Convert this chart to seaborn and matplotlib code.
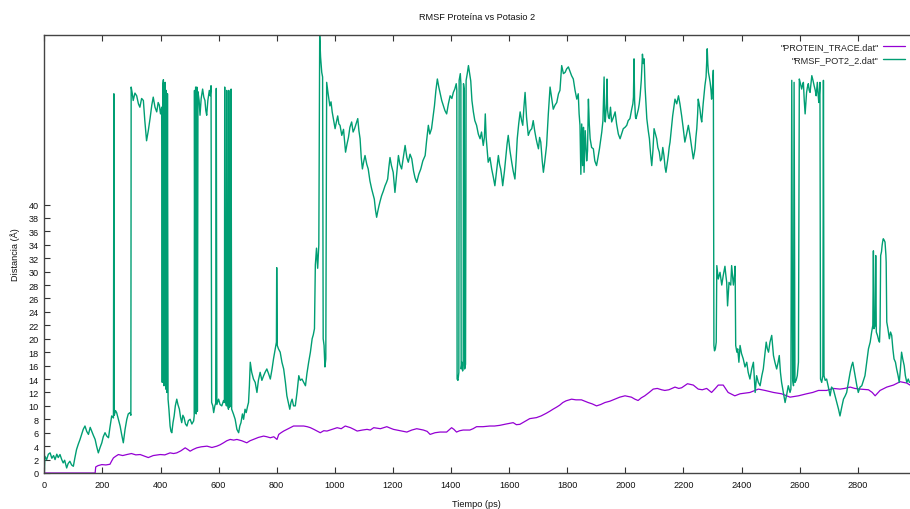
import matplotlib
matplotlib.use("Agg")
import matplotlib.pyplot as plt
from matplotlib import font_manager
import seaborn as sns

# PROTEIN_TRACE.dat  (tiempo ps, distancia A)
protein_t = [0, 60, 120, 175, 177, 185, 198, 212, 226, 232, 238, 246, 255, 270, 284, 300, 315, 330, 345, 358,
             375, 399, 415, 433, 445, 456, 470, 485, 494, 502, 512, 525, 540, 560, 577, 594, 605, 617, 628, 640,
             652, 663, 680, 697, 708, 720, 737, 755, 766, 778, 790, 801, 807, 815, 824, 840, 858, 875, 893, 905,
             916, 928, 939, 950, 962, 973, 990, 1008, 1022, 1036, 1054, 1066, 1077, 1095, 1111, 1122, 1134, 1157,
             1179, 1190, 1202, 1225, 1248, 1265, 1282, 1305, 1318, 1328, 1345, 1362, 1385, 1402, 1410, 1419, 1430,
             1442, 1465, 1476, 1488, 1510, 1534, 1550, 1568, 1590, 1614, 1625, 1637, 1655, 1671, 1694, 1710, 1728,
             1740, 1751, 1763, 1774, 1785, 1796, 1815, 1830, 1849, 1872, 1886, 1901, 1915, 1930, 1947, 1964, 1981,
             1999, 2021, 2033, 2044, 2055, 2067, 2082, 2096, 2110, 2125, 2136, 2150, 2171, 2184, 2194, 2214, 2234,
             2251, 2265, 2280, 2297, 2310, 2320, 2337, 2354, 2377, 2395, 2412, 2429, 2458, 2481, 2510, 2538, 2567,
             2596, 2624, 2645, 2665, 2693, 2716, 2739, 2755, 2774, 2790, 2808, 2837, 2850, 2860, 2877, 2900, 2923,
             2946, 2969, 2980]
protein_v = [0, 0, 0, 0, 0.9, 1.1, 1.25, 1.2, 1.3, 1.8, 2.25, 2.5, 2.75, 2.6, 2.75, 2.9, 2.7, 2.75, 2.5, 2.3,
             2.6, 2.75, 2.7, 3.0, 2.9, 3.0, 3.3, 3.75, 3.5, 3.25, 3.5, 3.75, 3.9, 4.0, 3.8, 4.0, 4.2, 4.5, 4.8, 5.0,
             4.9, 5.0, 4.8, 4.5, 4.8, 5.0, 5.3, 5.5, 5.4, 5.25, 5.4, 5.0, 5.75, 6.0, 6.25, 6.6, 7.0, 7.0, 7.0, 6.9,
             6.75, 6.5, 6.25, 6.0, 6.3, 6.25, 6.5, 6.75, 6.6, 7.0, 6.75, 6.5, 6.25, 6.4, 6.5, 6.4, 6.75, 6.6,
             6.9, 6.7, 6.5, 6.3, 6.1, 6.4, 6.6, 6.4, 6.2, 5.75, 6.0, 6.1, 6.1, 6.75, 6.5, 6.1, 6.3,
             6.4, 6.4, 6.6, 6.9, 6.9, 7.0, 7.0, 7.1, 7.3, 7.5, 7.2, 7.25, 7.7, 8.1, 8.25, 8.5, 8.9,
             9.2, 9.5, 9.8, 10.1, 10.5, 10.75, 11.0, 10.9, 10.9, 10.5, 10.3, 10.0, 10.2, 10.5, 10.7, 11.0, 11.3,
             11.5, 11.3, 11.0, 10.8, 11.2, 11.5, 12.0, 12.5, 12.6, 12.4, 12.3, 12.4, 12.8, 12.6, 12.7, 13.3, 13.1,
             12.5, 12.4, 12.6, 12.0, 12.6, 13.1, 13.1, 12.0, 11.5, 11.8, 11.9, 12.0, 12.5, 12.3, 12.0, 11.8, 11.3,
             11.5, 11.8, 12.0, 12.3, 12.3, 12.6, 12.5, 12.6, 12.8, 12.6, 12.5, 12.4, 12.0, 11.5, 12.3, 12.8, 13.1,
             13.6, 13.4, 13.1]

# RMSF_POT2_2.dat  (tiempo ps, distancia A)
pot_t = [0, 2, 8, 14, 20, 26, 32, 37, 43, 48, 54, 60, 65, 70, 77, 82, 88, 94, 100, 105,
         111, 117, 123, 129, 134, 140, 146, 152, 158, 163, 169, 175, 180, 186, 192, 198, 203, 209, 215, 221,
         226, 232, 238, 239.5, 241, 245, 249, 255, 261, 266, 272, 278, 284, 289, 295, 298,
         299, 303, 306, 312, 318, 324, 329, 335, 341, 346, 352, 358, 364, 370, 375, 381, 387, 392, 396, 400,
         404, 406, 408, 410, 412, 414, 416, 418, 420, 422, 424, 426,
         429, 433, 436, 439, 443, 447, 451, 456, 460, 465, 469, 473, 477, 481, 486, 491, 496, 502, 508, 514,
         516, 517, 519, 521, 523, 525, 527, 529,
         533, 536, 540, 545, 549, 553, 556, 559, 563, 568, 571, 574,
         576, 580, 583, 587, 590, 592, 594, 600, 605, 611, 617, 620, 621, 623, 627, 628, 630, 634, 635, 637,
         642, 643, 645, 651, 657, 663, 669, 673, 677, 682, 686, 691, 695, 700, 703, 706, 709, 714, 720, 726,
         732, 737, 743, 749, 755, 760, 766, 772, 778, 784, 789, 795, 799, 800, 802, 806, 812, 818, 824, 830,
         835, 840, 845, 849, 853, 858, 864, 870, 876, 881, 887, 893, 899, 904, 910, 916, 922, 926, 930, 933,
         937, 941, 945, 948, 951, 955, 958, 960, 963, 966, 969, 972,
         977, 983, 987, 991, 996, 1001, 1005, 1010, 1014, 1018, 1024, 1030, 1037, 1042, 1047, 1052, 1058, 1063,
         1068, 1073, 1079, 1083, 1087, 1091, 1095, 1100, 1104, 1110, 1115, 1121, 1127, 1132, 1136, 1140, 1144,
         1148, 1152, 1156, 1161, 1167, 1173, 1178, 1182, 1186, 1190, 1195, 1201, 1207, 1213, 1219, 1224, 1230,
         1236, 1242, 1248, 1253, 1259, 1265, 1271, 1276, 1282, 1289, 1296, 1303, 1311, 1316, 1322, 1327, 1333,
         1338, 1343, 1348, 1353, 1358, 1362, 1368, 1374, 1379, 1385, 1391, 1397, 1403, 1408, 1413, 1418, 1420,
         1421, 1424, 1427, 1428, 1432, 1434, 1435, 1438, 1440, 1442, 1443, 1446, 1447, 1450, 1452, 1456, 1460,
         1464, 1468, 1472, 1477, 1482, 1488, 1494, 1500, 1505, 1511, 1515, 1518, 1521, 1528, 1534, 1540, 1546,
         1551, 1557, 1563, 1567, 1571, 1575, 1578, 1584, 1589, 1593, 1597, 1603, 1609, 1614, 1620, 1624, 1628,
         1633, 1638, 1643, 1647, 1651, 1655, 1660, 1666, 1672, 1678, 1683, 1688, 1693, 1697, 1701, 1705, 1709,
         1714, 1718, 1723, 1729, 1735, 1741, 1746, 1752, 1758, 1764, 1770, 1775, 1781, 1787, 1793, 1798, 1804,
         1810, 1815, 1821, 1827, 1833, 1838, 1841, 1844, 1847, 1850, 1853, 1856, 1858, 1862, 1867, 1870, 1873,
         1876, 1879, 1884, 1890, 1895, 1901, 1906, 1911, 1915, 1919, 1923, 1927, 1929, 1931, 1935, 1937, 1939,
         1942, 1945, 1949, 1953, 1959, 1965, 1970, 1976, 1982, 1987, 1993, 1999, 2005, 2010, 2016, 2022, 2026,
         2028, 2030, 2032, 2035, 2037, 2041, 2045, 2048, 2051, 2055, 2059, 2062, 2065, 2068, 2071, 2074, 2079,
         2083, 2087, 2091, 2095, 2099, 2104, 2108, 2112, 2117, 2121, 2125, 2129, 2133, 2137, 2140, 2144, 2148,
         2151, 2154, 2158, 2163, 2167, 2171, 2177, 2183, 2188, 2194, 2199, 2205, 2211, 2217, 2222, 2226, 2230,
         2234, 2237, 2240, 2243, 2246, 2249, 2251, 2254, 2257, 2260, 2263, 2268, 2274, 2278, 2282, 2284, 2286,
         2289, 2292, 2295, 2297, 2300, 2303,
         2305, 2307, 2310, 2313, 2315, 2320, 2326, 2332, 2337, 2343, 2346, 2349, 2352, 2355, 2357, 2363, 2366,
         2369, 2372, 2376, 2378, 2380, 2384, 2387, 2391, 2395, 2400, 2406, 2412, 2418, 2423, 2429, 2435, 2441,
         2447, 2452, 2458, 2464, 2470, 2475, 2480, 2485, 2489, 2493, 2498, 2504, 2507, 2510, 2515, 2521, 2526,
         2530, 2534, 2538, 2544, 2550, 2556, 2561, 2567, 2570, 2573, 2576, 2579, 2581, 2584, 2588, 2592, 2596,
         2599, 2603, 2607, 2610, 2613, 2616, 2619, 2622, 2624, 2627, 2630, 2633, 2636, 2639, 2642, 2646, 2650,
         2654, 2657, 2661, 2663, 2666, 2668, 2670, 2672, 2676, 2680, 2682, 2684, 2688, 2693, 2699, 2705, 2710,
         2716, 2722, 2728, 2734, 2739, 2745, 2751, 2757, 2762, 2768, 2774, 2779, 2783, 2787, 2791, 2797, 2802,
         2808, 2814, 2820, 2825, 2831, 2837, 2843, 2848, 2852, 2854, 2856, 2860, 2862, 2864, 2868, 2872, 2875,
         2877, 2879, 2882, 2884, 2886, 2888, 2891, 2894, 2897, 2898, 2900, 2904, 2909, 2913, 2917, 2921, 2925,
         2930, 2934, 2939, 2943, 2947, 2951, 2955, 2960, 2964, 2969, 2974, 2978]
pot_v = [0, 2.5, 2.0, 2.8, 3.0, 2.2, 2.6, 2.0, 2.8, 2.3, 2.75, 2.0, 1.5, 1.9, 0.75, 1.4, 1.75, 1.2, 1.0, 2.2,
         3.5, 4.3, 5.0, 5.8, 6.5, 7.0, 6.2, 5.75, 6.8, 6.25, 5.6, 5.0, 4.0, 3.0, 3.8, 4.5, 5.4, 6.0, 5.5, 5.25,
         6.8, 8.5, 8.2, 56.5, 8.6, 9.3, 9.0, 8.0, 7.0, 5.8, 4.5, 6.5, 8.0, 8.8, 9.0, 8.6,
         57.5, 56.5, 55.5, 56.6, 56.2, 55.0, 54.5, 55.8, 55.5, 52.5, 49.5, 51.0, 52.8, 54.8, 56.0, 54.5, 53.8, 55.2, 54.8, 53.5,
         54.5, 13.5, 57.8, 58.6, 13.0, 57.5, 58.2, 12.5, 57.0, 12.0, 56.5, 11.0,
         9.5, 7.0, 6.2, 6.0, 7.5, 8.5, 10.0, 11.0, 10.2, 9.5, 8.3, 7.5, 8.6, 8.25, 7.3, 7.0, 7.8, 8.0, 7.3, 7.75,
         8.5, 57.0, 9.0, 57.5, 8.8, 57.5, 9.2, 56.8,
         55.5, 53.3, 55.8, 57.2, 56.0, 55.5, 54.0, 53.3, 55.5, 57.0, 56.2, 57.7,
         10.5, 10.0, 9.0, 10.0, 10.4, 57.3, 10.2, 11.0, 10.2, 10.0, 10.8, 10.5, 57.5, 11.0, 10.0, 57.0, 10.5, 9.5, 57.0, 9.8,
         10.0, 57.2, 9.5, 8.8, 8.0, 6.5, 6.0, 7.0, 7.5, 8.8, 8.0, 9.5, 9.0, 10.0, 10.5, 13.0, 16.5, 15.0, 14.0, 13.5,
         12.0, 13.8, 15.0, 13.8, 14.5, 15.0, 15.5, 14.8, 14.0, 15.5, 17.0, 18.5, 19.5, 30.6, 19.0, 18.5, 18.0, 16.5, 15.5, 13.5,
         11.5, 10.5, 9.5, 10.5, 11.0, 10.0, 10.0, 12.0, 14.5, 13.8, 14.0, 13.5, 13.0, 14.8, 16.5, 18.0, 20.0, 20.6, 21.5, 31.0,
         33.5, 30.5, 34.0, 65.2, 62.0, 59.7, 59.0, 20.0, 19.0, 15.8, 17.0, 58.2,
         56.5, 54.7, 55.3, 53.8, 52.5, 51.3, 52.2, 53.2, 52.0, 51.8, 50.3, 51.2, 47.8, 49.0, 50.0, 51.5, 52.3, 50.8,
         51.3, 52.0, 52.8, 51.0, 49.8, 47.0, 45.3, 46.5, 47.3, 46.0, 45.3, 43.5, 42.3, 41.5, 40.8, 39.2, 38.1,
         39.0, 39.8, 40.5, 41.3, 42.0, 42.8, 43.3, 43.8, 45.5, 47.0, 45.8, 44.8, 41.8, 44.5, 47.3, 46.0, 45.3,
         47.0, 48.8, 47.0, 46.3, 47.5, 46.8, 45.0, 44.0, 43.3, 44.5, 45.3, 46.5, 47.3, 49.5, 51.8, 50.5, 51.3,
         53.0, 54.7, 57.0, 58.7, 57.5, 56.7, 55.5, 54.7, 54.0, 53.5, 55.0, 56.2, 55.8, 56.7, 57.2, 58.0, 57.0,
         14.0, 13.8, 15.0, 58.5, 59.5, 58.0, 15.5, 16.5, 15.2, 16.0, 58.0, 57.0, 15.5, 16.2, 58.5, 59.5, 60.7,
         59.5, 58.4, 55.5, 53.8, 52.5, 51.8, 50.5, 49.8, 50.8, 48.8, 50.0, 53.5, 50.0, 46.3, 47.0, 45.3, 44.0,
         42.8, 45.0, 47.3, 46.0, 45.3, 44.0, 42.8, 45.0, 47.3, 49.0, 50.3, 48.0, 46.3, 45.0, 43.8, 46.5, 49.8,
         52.0, 53.8, 52.5, 51.8, 54.5, 56.7, 53.0, 50.3, 51.0, 51.3, 52.5, 51.0, 49.8, 49.0, 48.3, 50.0, 49.3,
         46.5, 44.8, 46.5, 48.8, 53.5, 57.5, 56.0, 54.2, 54.8, 55.2, 56.5, 57.0, 60.7, 59.5, 59.7, 60.2, 60.5,
         59.8, 59.2, 58.7, 57.0, 55.7, 56.5, 53.5, 51.8, 44.5, 52.0, 45.8, 51.5, 44.8, 51.0, 46.5, 48.0, 55.7,
         52.0, 49.8, 48.5, 48.3, 46.5, 45.8, 47.0, 48.3, 49.5, 50.8, 52.5, 59.0, 53.0, 52.3, 55.0, 58.7, 54.0,
         53.0, 52.8, 54.5, 52.3, 53.0, 53.8, 52.0, 50.5, 49.8, 50.5, 51.3, 51.5, 51.8, 52.5, 52.8, 54.2, 55.0,
         56.0, 61.7, 55.5, 53.0, 52.8, 53.5, 54.2, 55.0, 56.2, 58.5, 62.4, 61.0, 61.7, 57.5, 55.0, 52.8, 51.0,
         49.8, 47.5, 45.8, 48.0, 51.3, 50.5, 49.8, 48.5, 47.8, 46.5, 46.8, 48.5, 47.3, 45.5, 44.8, 46.0, 47.3,
         48.5, 49.3, 51.0, 53.2, 54.5, 55.7, 55.0, 56.2, 55.0, 53.2, 51.5, 49.3, 50.5, 51.8, 50.5, 49.3, 48.0,
         46.8, 47.5, 48.3, 50.0, 51.3, 53.5, 55.7, 55.0, 54.2, 53.0, 52.3, 55.0, 57.7, 59.0, 63.2, 61.0, 59.7,
         59.0, 58.2, 57.0, 55.7, 57.5, 60.0,
         19.0, 18.2, 18.5, 19.5, 30.9, 28.9, 29.9, 28.0, 29.4, 30.8, 29.5, 28.4, 24.9, 27.0, 28.4, 28.0, 30.9,
         29.5, 28.0, 29.5, 30.8, 19.0, 18.0, 18.5, 16.5, 19.0, 17.8, 17.0, 15.8, 16.5, 15.0, 14.0, 15.5, 16.5,
         12.0, 14.5, 13.5, 13.0, 14.5, 15.5, 17.5, 19.5, 18.5, 18.0, 19.5, 20.5, 19.0, 17.5, 16.5, 15.5, 16.5,
         17.5, 15.0, 13.5, 12.0, 10.5, 11.8, 13.0, 12.0, 12.5, 58.5, 14.0, 13.0, 58.2, 13.5, 13.8, 14.5, 16.5,
         58.7, 58.0, 57.2, 57.8, 58.2, 55.5, 53.5, 55.5, 56.7, 57.5, 58.0, 57.0, 56.7, 58.0, 59.2, 58.5, 57.7,
         57.0, 56.2, 58.2, 56.8, 55.2, 56.5, 58.2, 14.0, 13.5, 14.5, 58.5, 14.5, 13.8, 14.0, 12.8, 11.5, 12.8,
         12.5, 11.5, 10.5, 9.5, 8.5, 9.8, 11.0, 11.5, 12.0, 13.5, 15.0, 16.0, 16.5, 15.5, 14.5, 13.0, 12.0,
         12.8, 13.0, 13.8, 14.5, 16.5, 18.5, 19.5, 21.0, 22.0, 33.1, 21.5, 22.0, 32.4, 21.0, 20.5, 19.8, 19.5,
         22.0, 32.4, 33.0, 33.9, 34.5, 34.9, 34.7, 34.4, 32.5, 31.4, 22.5, 21.5, 20.0, 21.0, 20.5, 18.5, 17.0,
         16.5, 15.5, 14.5, 13.5, 15.5, 18.0, 17.0, 16.0, 14.5, 13.5, 14.0, 13.5]

x_ticks = list(range(0, 2801, 200))
y_ticks = list(range(0, 41, 2))

sns.set_style("white")
# narrow font to mimic the gnuplot rendering, fall back if not installed
installed = {f.name for f in font_manager.fontManager.ttflist}
if "Liberation Sans Narrow" in installed:
    main_font, fsize = "Liberation Sans Narrow", 7.3
else:
    main_font, fsize = "Liberation Sans", 6.6
plt.rcParams["font.family"] = [main_font, "DejaVu Sans"]

W, H = 910, 510
fig = plt.figure(figsize=(W / 100, H / 100), dpi=100)
ax = fig.add_axes([44.3 / W, 1 - 474 / H, (W - 44.3) / W, (474 - 35.7) / H])

sns.lineplot(x=protein_t, y=protein_v, ax=ax, color="#9400d3", lw=0.9,
             sort=False, estimator=None, label='"PROTEIN_TRACE.dat"')
sns.lineplot(x=pot_t, y=pot_v, ax=ax, color="#009e73", lw=1.0,
             sort=False, estimator=None, label='"RMSF_POT2_2.dat"')

ax.set_xlim(0, 2980)
ax.set_ylim(0, 65.3)
ax.set_xticks(x_ticks)
ax.set_yticks(y_ticks)
ax.tick_params(axis="x", direction="in", top=True, bottom=True, length=4, width=0.8,
               labelsize=fsize, pad=5, color="#333333", labelcolor="#111111")
ax.tick_params(axis="y", direction="in", left=True, right=False, length=4, width=0.8,
               labelsize=fsize, pad=4, color="#333333", labelcolor="#111111")
for side in ["left", "bottom", "top"]:
    ax.spines[side].set_color("#444444")
    ax.spines[side].set_linewidth(1.0)
ax.spines["right"].set_visible(False)
ax.set_xlabel("")
ax.set_ylabel("")

fig.text(0.524, 1 - 17 / H, "RMSF Proteína vs Potasio 2", ha="center", va="center",
         fontsize=fsize, color="#111111")
fig.text(0.524, 1 - 505 / H, "Tiempo (ps)", ha="center", va="center", fontsize=fsize, color="#111111")
fig.text(15 / W, 1 - 255 / H, "Distancia (Å)", ha="center", va="center", rotation=90,
         fontsize=fsize, color="#111111")

ax.legend(loc="upper right", bbox_to_anchor=(905 / W, 1 - 43 / H), bbox_transform=fig.transFigure,
          frameon=False, markerfirst=False, fontsize=fsize, handlelength=2.4, handletextpad=0.5,
          labelspacing=0.45, borderpad=0, borderaxespad=0)

fig.savefig("out.png", dpi=100)
